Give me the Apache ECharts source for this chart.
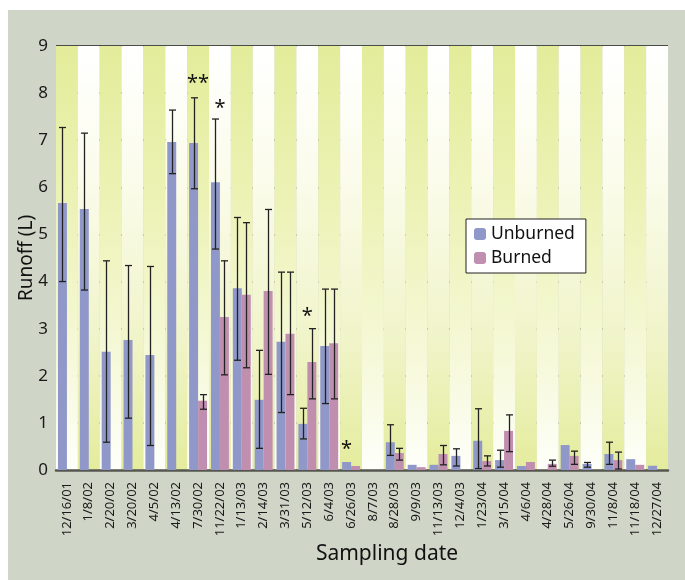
<!DOCTYPE html>
<html lang="en">
<head>
    <meta charset="UTF-8">
    <title>Runoff</title>
    <script type="text/javascript" src="https://cdn.jsdelivr.net/npm/echarts@6/dist/echarts.min.js"></script>
</head>
<body style="margin: 0; background: #ffffff;">

<div id="chart" style="position: absolute; left: 8px; top: 10px; width: 677px; height: 570px; background: #cfd5c7;"></div>

<script type="text/javascript">
    // sampling dates
    var dates = ['12/16/01', '1/8/02', '2/20/02', '3/20/02', '4/5/02', '4/13/02', '7/30/02', '11/22/02',
        '1/13/03', '2/14/03', '3/31/03', '5/12/03', '6/4/03', '6/26/03', '8/7/03', '8/28/03', '9/9/03',
        '11/13/03', '12/4/03', '1/23/04', '3/15/04', '4/6/04', '4/28/04', '5/26/04', '9/30/04',
        '11/8/04', '11/18/04', '12/27/04'];

    // mean runoff (L)
    var unburned = [5.67, 5.54, 2.51, 2.76, 2.44, 6.96, 6.94, 6.11, 3.86, 1.49, 2.72, 0.98, 2.63, 0.17,
        null, 0.59, 0.11, 0.11, 0.30, 0.62, 0.21, 0.085, null, 0.53, 0.13, 0.34, 0.23, 0.09];
    var burned = [null, null, null, null, null, null, 1.47, 3.25, 3.72, 3.80, 2.89, 2.29, 2.69, 0.085,
        null, 0.36, 0.06, 0.34, null, 0.19, 0.83, 0.17, 0.13, 0.30, null, 0.21, 0.11, null];

    // error bar ends
    var unburnedLow = [4.00, 3.82, 0.59, 1.10, 0.52, 6.29, 5.97, 4.69, 2.33, 0.46, 1.22, 0.66, 1.41, null,
        null, 0.31, null, null, 0.085, 0.03, 0.06, null, null, null, 0.06, 0.12, null, null];
    var unburnedHigh = [7.27, 7.15, 4.44, 4.34, 4.32, 7.64, 7.90, 7.45, 5.36, 2.54, 4.20, 1.31, 3.84, null,
        null, 0.96, null, null, 0.45, 1.30, 0.42, null, null, null, 0.16, 0.59, null, null];
    var burnedLow = [null, null, null, null, null, null, 1.29, 2.02, 2.17, 2.03, 1.60, 1.51, 1.51, null,
        null, 0.21, null, 0.11, null, 0.085, 0.39, null, 0.08, 0.12, null, 0.02, null, null];
    var burnedHigh = [null, null, null, null, null, null, 1.60, 4.44, 5.25, 5.53, 4.20, 3.00, 3.84, null,
        null, 0.46, null, 0.52, null, 0.30, 1.17, null, 0.21, 0.40, null, 0.38, null, null];

    // significance marks
    var starDates = ['7/30/02', '11/22/02', '5/12/03', '6/26/03'];
    var starText = ['**', '*', '*', '*'];
    var starValue = [8.2, 7.67, 3.27, 0.43];
    var starOn = ['pair', 'pair', 'pair', 'unburned'];

    var tickValues = [0, 1, 2, 3, 4, 5, 6, 7, 8, 9];

    var fontFamily = '"Noto Sans", "Open Sans", sans-serif';
    var catGap = 0.18;

    function errData(lo, hi) {
        var out = [];
        for (var i = 0; i < dates.length; i++) {
            if (lo[i] != null && hi[i] != null) out.push([i, lo[i], hi[i]]);
        }
        return out;
    }

    function errRender(sign) {
        return function (params, api) {
            var i = api.value(0);
            var lo = api.coord([i, api.value(1)]);
            var hi = api.coord([i, api.value(2)]);
            var band = api.size([1, 0])[0];
            var bw = band * (1 - catGap) / 2;
            var cx = Math.round(lo[0] + sign * bw / 2) + 0.5;
            var cap = 3.5;
            var st = {stroke: '#222', lineWidth: 1.3};
            return {
                type: 'group',
                children: [
                    {type: 'line', shape: {x1: cx, y1: lo[1], x2: cx, y2: hi[1]}, style: st},
                    {type: 'line', shape: {x1: cx - cap, y1: lo[1], x2: cx + cap, y2: lo[1]}, style: st},
                    {type: 'line', shape: {x1: cx - cap, y1: hi[1], x2: cx + cap, y2: hi[1]}, style: st}
                ]
            };
        };
    }

    var starData = [];
    for (var k = 0; k < starDates.length; k++) {
        starData.push([dates.indexOf(starDates[k]), starValue[k], starText[k], starOn[k]]);
    }

    var yellowStripe = {
        type: 'linear', x: 0, y: 0, x2: 0, y2: 1,
        colorStops: [
            {offset: 0, color: '#e3ec9a'},
            {offset: 0.35, color: '#ecf2b4'},
            {offset: 0.75, color: '#f6f9da'},
            {offset: 1, color: '#fefffa'}
        ]
    };
    var whiteStripe = {
        type: 'linear', x: 0, y: 0, x2: 0, y2: 1,
        colorStops: [
            {offset: 0, color: '#ffffff'},
            {offset: 0.3, color: '#fbfcec'},
            {offset: 0.7, color: '#f0f4c8'},
            {offset: 1, color: '#e4ec9c'}
        ]
    };

    var chart = echarts.init(document.getElementById('chart'));
    var option = {
        backgroundColor: 'transparent',
        animation: false,
        textStyle: {fontFamily: fontFamily},
        grid: {left: 48, right: 17, top: 36, bottom: 110, containLabel: false, outerBoundsMode: 'none'},
        legend: {
            left: 458,
            top: 209,
            orient: 'vertical',
            itemWidth: 12,
            itemHeight: 12,
            itemGap: 6,
            padding: [6, 11, 6, 8],
            backgroundColor: '#ffffff',
            borderColor: '#222',
            borderWidth: 1,
            borderRadius: 0,
            textStyle: {fontSize: 17.5, color: '#111', fontFamily: fontFamily},
            data: ['Unburned', 'Burned']
        },
        xAxis: {
            type: 'category',
            data: dates,
            boundaryGap: true,
            name: 'Sampling date',
            nameLocation: 'middle',
            nameGap: 74,
            nameMoveOverlap: false,
            nameTextStyle: {fontSize: 21, color: '#111', padding: [0, 0, 0, 50]},
            axisLine: {lineStyle: {color: '#55574f', width: 2.5}},
            axisTick: {show: false},
            axisLabel: {rotate: 90, interval: 0, fontSize: 13, color: '#1a1a1a', margin: 12},
            splitArea: {show: true, interval: 0, areaStyle: {color: [yellowStripe, whiteStripe]}}
        },
        yAxis: {
            type: 'value',
            min: tickValues[0],
            max: tickValues[tickValues.length - 1],
            interval: 1,
            name: 'Runoff (L)',
            nameLocation: 'middle',
            nameGap: 20,
            nameMoveOverlap: false,
            nameTextStyle: {fontSize: 19, color: '#111'},
            axisLine: {show: false},
            axisTick: {show: false},
            axisLabel: {fontSize: 17, color: '#1a1a1a', margin: 8},
            splitLine: {lineStyle: {color: '#1e1e1e', width: 1.6}}
        },
        series: [
            {
                name: 'Unburned',
                type: 'bar',
                data: unburned,
                barGap: 0,
                barCategoryGap: (catGap * 100) + '%',
                itemStyle: {color: '#8f98c8'},
                z: 2
            },
            {
                name: 'Burned',
                type: 'bar',
                data: burned,
                barGap: 0,
                barCategoryGap: (catGap * 100) + '%',
                itemStyle: {color: '#c08fb0'},
                z: 2
            },
            {
                type: 'custom',
                data: errData(unburnedLow, unburnedHigh),
                encode: {x: 0, y: [1, 2]},
                renderItem: errRender(-1),
                z: 5,
                silent: true
            },
            {
                type: 'custom',
                data: errData(burnedLow, burnedHigh),
                encode: {x: 0, y: [1, 2]},
                renderItem: errRender(1),
                z: 5,
                silent: true
            },
            {
                type: 'custom',
                data: starData,
                encode: {x: 0, y: 1},
                z: 6,
                silent: true,
                renderItem: function (params, api) {
                    var i = api.value(0);
                    var p = api.coord([i, api.value(1)]);
                    var band = api.size([1, 0])[0];
                    var bw = band * (1 - catGap) / 2;
                    var x = p[0];
                    if (starData[params.dataIndex][3] === 'unburned') x -= bw / 2;
                    return {
                        type: 'text',
                        x: x,
                        y: p[1],
                        style: {
                            text: starData[params.dataIndex][2],
                            fontSize: 20,
                            fontFamily: fontFamily,
                            fill: '#111',
                            align: 'center',
                            verticalAlign: 'middle'
                        }
                    };
                }
            }
        ]
    };
    chart.setOption(option);
</script>

</body>
</html>
